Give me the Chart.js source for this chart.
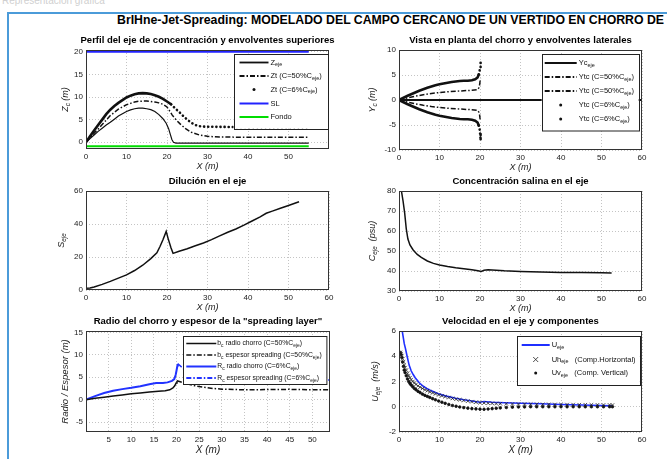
<!DOCTYPE html>
<html>
<head>
<meta charset="utf-8">
<script src="https://cdn.jsdelivr.net/npm/chart.js@4.4.1/dist/chart.umd.min.js"></script>
<style>
  body { margin:0; width:667px; height:459px; overflow:hidden; background:#fff; position:relative; font-family:"Liberation Sans", Arial, sans-serif; }
  #cabecera { position:absolute; left:2px; top:-5px; font-size:10px; color:#d0d0d0; }
  #recuadro { position:absolute; left:7px; top:12px; width:700px; height:480px; border-left:2px solid #4b9bd9; border-top:2px solid #4b9bd9; }
  #titulo { position:absolute; left:117px; top:13px; font-size:12.3px; font-weight:bold; white-space:nowrap; color:#000; }
  canvas { position:absolute; }
</style>
</head>
<body>
<div id="cabecera">Representación gráfica</div>
<div id="recuadro"></div>
<div id="titulo">BrIHne-Jet-Spreading: MODELADO DEL CAMPO CERCANO DE UN VERTIDO EN CHORRO DE</div>
<canvas id="g_perfil"></canvas>
<canvas id="g_planta"></canvas>
<canvas id="g_dilucion"></canvas>
<canvas id="g_concentracion"></canvas>
<canvas id="g_radio"></canvas>
<canvas id="g_velocidad"></canvas>
<script>
// datos: perfil del eje (x, z)
const perfil_z_eje = [[0,0],[1,0.8],[2,1.6],[3,2.4],[4,3.1],[5,3.8],[6,4.4],[7,5.1],[8,5.8],[9,6.3],[10,6.8],[11,7.15],[12,7.4],[13,7.55],[14,7.55],[15,7.4],[16,7.2],[17,6.8],[18,6.1],[19,5.2],[19.8,4.2],[20.4,3.0],[20.8,1.8],[21.2,0.6],[21.6,0],[22.2,-0.2],[30,-0.2],[40,-0.2],[55,-0.2]];
const perfil_zt_50 = [[0,0],[1,1.0],[2,2.0],[3,2.9],[4,3.9],[5,4.9],[6,5.9],[7,6.6],[8,7.3],[9,7.8],[10,8.3],[11,8.6],[12,8.9],[13,9.05],[14,9.1],[15,9.1],[16,9.0],[17,8.9],[18,8.7],[19,8.4],[20,7.8],[20.6,7.0],[21.3,6.0],[22.2,5.0],[23.3,4.0],[24.6,3.0],[26,2.2],[28,1.6],[30,1.3],[33,1.15],[40,1.1],[48,1.1],[55,1.1]];
const perfil_zt_6 = [[0,0],[1,1.3],[2,2.6],[3,3.8],[4,5.0],[5,6.2],[6,7.2],[7,8.0],[8,8.7],[9,9.3],[10,9.9],[11,10.3],[12,10.6],[13,10.8],[14,10.85],[15,10.8],[16,10.65],[17,10.4],[18,10.05],[19,9.6],[20,9.0],[21,8.4],[22,7.5],[23,6.7],[24,5.8],[25,5.0],[26,4.3],[27,3.8],[28,3.55],[29,3.45],[32,3.4],[40,3.35],[48,3.35],[55,3.35]];
const perfil_sl = [[0,20],[55,20]];
const perfil_fondo = [[0,-0.9],[55,-0.9]];

// datos: vista en planta (x, y)
const planta_yc_eje = [[0,0],[60,0]];
const planta_ytc50_sup = [[0,0],[2,0.4],[4,0.75],[6,1.05],[8,1.3],[10,1.5],[12,1.65],[14,1.75],[16,1.85],[18,1.95],[19.3,2.05],[19.7,2.4],[19.9,3.0],[20,3.7],[20.1,4.3]];
const planta_ytc50_inf = [[0,0],[2,-0.4],[4,-0.75],[6,-1.05],[8,-1.3],[10,-1.5],[12,-1.65],[14,-1.75],[16,-1.85],[18,-1.95],[19.3,-2.05],[19.7,-2.4],[19.9,-3.0],[20,-3.7],[20.1,-4.2]];
const planta_ytc6_sup = [[0,0],[1,0.4],[2,0.8],[3,1.15],[4,1.5],[5,1.85],[6,2.15],[7,2.45],[8,2.7],[9,2.95],[10,3.15],[11,3.3],[12,3.45],[13,3.6],[14,3.7],[15,3.8],[16,3.85],[17,3.85],[18,3.95],[18.8,4.15],[19.4,4.5],[19.7,5.1],[19.9,5.8],[20,6.5],[20.1,7.3],[20.2,8.0]];
const planta_ytc6_inf = [[0,0],[1,-0.4],[2,-0.8],[3,-1.15],[4,-1.5],[5,-1.85],[6,-2.15],[7,-2.45],[8,-2.7],[9,-2.95],[10,-3.15],[11,-3.3],[12,-3.45],[13,-3.6],[14,-3.7],[15,-3.8],[16,-3.85],[17,-3.85],[18,-3.95],[18.8,-4.15],[19.4,-4.5],[19.7,-5.1],[19.9,-5.8],[20,-6.5],[20.1,-7.3],[20.2,-8.0]];

// datos: dilucion y concentracion en el eje
const dilucion_eje = [[0,1],[1,1.2],[2,1.8],[4,3.4],[6,5.2],[8,7.2],[10,9.2],[12,11.8],[14,15],[16,19],[17.5,22.5],[18.3,26.5],[19,30.5],[19.8,35.5],[20.3,31],[21,25.5],[21.5,22.2],[23,23.5],[25,25],[27,26.8],[29,28.5],[31,30.5],[33,32.8],[35,35],[37,37],[39,39.3],[41,41.8],[43,44.3],[44.5,46.5],[46,47.8],[48,49.5],[50,51.2],[52.6,53.5]];
const concentracion_eje = [[0.6,80],[1,75],[1.4,69],[1.8,61],[2.2,56],[2.7,53],[3.5,50.5],[4.5,48.3],[5.5,46.8],[7,45],[8.5,43.8],[10,43],[12,42.2],[14,41.6],[16,41.1],[18,40.6],[19.5,40.1],[20.3,39.8],[21,40.4],[22,40.6],[24,40.4],[26,40.1],[30,39.8],[35,39.5],[40,39.3],[45,39.2],[50,39.1],[52.5,39]];

// datos: radio y espesor
const radio_b50 = [[0,0],[2,0.3],[4,0.55],[6,0.8],[8,1.05],[10,1.3],[12,1.5],[14,1.7],[16,1.9],[17.5,2.0],[18.5,2.2],[19.2,2.6],[19.6,3.1],[19.9,3.7],[20.1,4.2]];
const espesor_b50 = [[20.1,4.2],[22,3.6],[24,3.1],[26,2.8],[28,2.5],[30,2.35],[35,2.2],[40,2.25],[45,2.3],[50,2.2],[54,2.2]];
const radio_r6 = [[0,0],[2,0.8],[4,1.5],[6,2.0],[8,2.35],[10,2.65],[12,3.0],[14,3.45],[15.5,3.7],[17,3.7],[18,3.85],[19,4.2],[19.5,4.6],[19.8,5.5],[20,6.5],[20.2,7.6],[20.3,8.0]];
const espesor_r6 = [[20.3,8.0],[22,6.5],[25,5.3],[28,4.8],[32,4.5],[40,4.4],[48,4.4],[54,4.4]];

// datos: velocidad
const u_eje = [[0.7,6.2],[1,5.6],[1.3,5.0],[1.6,4.6],[2,4.0],[2.5,3.3],[3,2.85],[3.5,2.55],[4,2.3],[5,1.9],[6,1.62],[7,1.42],[8,1.26],[10,1.0],[12,0.82],[14,0.67],[16,0.55],[18,0.45],[20,0.36],[21,0.42],[23,0.36],[26,0.32],[30,0.28],[35,0.24],[40,0.18],[45,0.14],[50,0.1],[52.7,0.07]];
const uh_eje = [[0.3,4.3],[0.5,4.2],[0.7,4.05],[0.9,3.8],[1.1,3.55],[1.3,3.3],[1.5,3.1],[1.8,2.9],[2.1,2.65],[2.4,2.45],[2.7,2.3],[3.0,2.15],[3.4,2.0],[3.8,1.88],[4.2,1.77],[4.7,1.65],[5.2,1.55],[5.8,1.45],[6.4,1.35],[7.0,1.27],[7.6,1.18],[8.3,1.1],[9.0,1.02],[9.8,0.94],[10.6,0.87],[11.4,0.8],[12.3,0.73],[13.2,0.66],[14.1,0.6],[15,0.55],[16,0.5],[17,0.45],[18,0.4],[19,0.36],[20,0.32],[21,0.3],[22,0.28],[23,0.27],[24,0.25],[25,0.24],[26.5,0.23],[28,0.22],[29.5,0.21],[31,0.21],[32.5,0.2],[34,0.2],[35.5,0.19],[37,0.19],[38.5,0.18],[40,0.18],[41.5,0.17],[43,0.17],[44.5,0.16],[46,0.16],[47.5,0.15],[49,0.15],[50.5,0.14],[52,0.14],[52.7,0.13]];
const uv_eje = [[0.3,4.3],[0.5,4.15],[0.7,3.9],[0.9,3.55],[1.1,3.2],[1.3,2.9],[1.5,2.7],[1.8,2.45],[2.1,2.2],[2.4,2.0],[2.7,1.85],[3.0,1.72],[3.4,1.58],[3.8,1.45],[4.2,1.35],[4.7,1.22],[5.2,1.12],[5.8,1.0],[6.4,0.9],[7.0,0.82],[7.6,0.74],[8.3,0.64],[9.0,0.55],[9.8,0.45],[10.6,0.36],[11.4,0.27],[12.3,0.18],[13.2,0.1],[14.1,0.04],[15,-0.02],[16,-0.07],[17,-0.11],[18,-0.15],[19,-0.17],[20,-0.19],[21,-0.2],[22,-0.18],[23,-0.15],[24,-0.12],[25,-0.09],[26.5,-0.06],[28,-0.03],[29.5,-0.02],[31,-0.01],[32.5,0],[34,0],[35.5,0],[37,0],[38.5,0],[40,0],[41.5,0],[43,0],[44.5,0],[46,0],[47.5,0],[49,0],[50.5,0],[52,0],[52.7,0]];

// ticks de los ejes
const ticks_x = [0,10,20,30,40,50,60];
const ticks_x_perfil = [0,10,20,30,40,50];
const ticks_x_radio = [5,10,15,20,25,30,35,40,45,50];
const ticks_y_perfil = [0,5,10,15,20];
const ticks_y_planta = [-10,-5,0,5,10];
const ticks_y_dilucion = [0,20,40,60];
const ticks_y_concentracion = [30,40,50,60,70,80];
const ticks_y_radio = [-5,0,5,10,15];
const ticks_y_velocidad = [-2,0,2,4,6];

const FUENTE = '"Liberation Sans", Arial, sans-serif';
const DASH_PUNTO = [5, 2, 1.5, 2];
Chart.defaults.font.family = FUENTE;

const a_puntos = arr => arr.map(([x, y]) => ({x, y}));

const linea = (datos, color, ancho, dash, extra) => ({
    data: a_puntos(datos),
    borderColor: color,
    backgroundColor: color,
    borderWidth: ancho,
    borderDash: dash || [],
    pointRadius: 0,
    showLine: true,
    tension: 0,
    ...extra
});

const marcas = (datos, estilo, radio, extra) => ({
    data: a_puntos(datos),
    showLine: false,
    pointStyle: estilo,
    pointRadius: radio,
    borderColor: '#111',
    backgroundColor: '#111',
    pointBorderWidth: 0.8,
    ...extra
});

// linea gruesa que pasa a puntos a partir de x_corte
const punteada = (datos, x_corte) => linea(datos, '#111', 2.6, [], {
    borderCapStyle: 'round',
    segment: { borderDash: ctx => ctx.p0.parsed.x >= x_corte ? [0.1, 4] : undefined }
});

// texto con subindices tipo "C_{eje}"
const dibuja_texto = (ctx, texto, x, y, tam, estilo, centrado) => {
    const partes = texto.split(/_\{([^}]*)\}/);
    const fuente = (i) => `${estilo} ${i % 2 ? tam * 0.72 : tam}px ${FUENTE}`;
    let ancho = 0;
    partes.forEach((p, i) => { ctx.font = fuente(i); ancho += ctx.measureText(p).width; });
    let x0 = centrado ? x - ancho / 2 : x;
    ctx.textAlign = 'left';
    ctx.textBaseline = 'middle';
    partes.forEach((p, i) => {
        ctx.font = fuente(i);
        ctx.fillText(p, x0, i % 2 ? y + tam * 0.32 : y);
        x0 += ctx.measureText(p).width;
    });
};

const dibuja_marca = (ctx, tipo, x, y) => {
    ctx.beginPath();
    if (tipo === 'punto') {
        ctx.arc(x, y, 1.5, 0, Math.PI * 2);
        ctx.fill();
    } else if (tipo === 'cruz') {
        ctx.lineWidth = 0.8;
        ctx.moveTo(x - 2.5, y - 2.5); ctx.lineTo(x + 2.5, y + 2.5);
        ctx.moveTo(x + 2.5, y - 2.5); ctx.lineTo(x - 2.5, y + 2.5);
        ctx.stroke();
    }
};

const crea_marco = (cfg) => ({
    id: 'marco',
    afterDraw(chart) {
        const {ctx, chartArea: a} = chart;
        ctx.save();
        ctx.strokeStyle = '#333';
        ctx.lineWidth = 1;
        ctx.setLineDash([]);
        ctx.strokeRect(a.left + 0.5, a.top + 0.5, a.width - 1, a.height - 1);
        // titulo del grafico
        ctx.fillStyle = '#000';
        ctx.font = `bold 9.5px ${FUENTE}`;
        ctx.textAlign = 'center';
        ctx.textBaseline = 'middle';
        ctx.fillText(cfg.titulo, (a.left + a.right) / 2, a.top - 10);
        // titulo eje y
        ctx.save();
        ctx.fillStyle = '#222';
        ctx.translate(a.left - cfg.offset_y, (a.top + a.bottom) / 2);
        ctx.rotate(-Math.PI / 2);
        dibuja_texto(ctx, cfg.eje_y, 0, 0, cfg.tam_y, 'italic', true);
        ctx.restore();
        // leyenda
        const ley = cfg.leyenda;
        if (ley) {
            const bx = a.left + ley.x, by = a.top + ley.y;
            ctx.fillStyle = '#fff';
            ctx.fillRect(bx, by, ley.w, ley.h);
            ctx.strokeStyle = '#222';
            ctx.lineWidth = 1;
            ctx.strokeRect(Math.round(bx) + 0.5, Math.round(by) + 0.5, ley.w, ley.h);
            ley.filas.forEach((f, i) => {
                const y = by + ley.filas_y[i];
                ctx.strokeStyle = f.color;
                ctx.fillStyle = f.color;
                if (f.marca) {
                    dibuja_marca(ctx, f.marca, bx + (ley.m0 + ley.m1) / 2, y);
                } else {
                    ctx.beginPath();
                    ctx.lineWidth = f.ancho || 1.5;
                    ctx.setLineDash(f.dash || []);
                    ctx.moveTo(bx + ley.m0, y);
                    ctx.lineTo(bx + ley.m1, y);
                    ctx.stroke();
                    ctx.setLineDash([]);
                }
                ctx.fillStyle = '#111';
                dibuja_texto(ctx, f.texto, bx + ley.tx, y, ley.tam, 'normal', false);
            });
        }
        ctx.restore();
    }
});

const crea_grafico = (id, geo, datasets, ejes, cfg) => {
    const izq = 45, der = 14, arr = 22, aba = geo.aba;
    const canvas = document.getElementById(id);
    canvas.width = geo.r - geo.l + izq + der;
    canvas.height = geo.b - geo.t + arr + aba;
    canvas.style.left = (geo.l - izq) + 'px';
    canvas.style.top = (geo.t - arr) + 'px';
    const grid = { color: '#c4c4c4', lineWidth: 1, drawTicks: false };
    const borde = { display: false, dash: [1, 2] };
    const ticks = { padding: 3, color: '#222', font: { size: 8 }, maxRotation: 0, autoSkip: false };
    new Chart(canvas, {
        type: 'scatter',
        data: { datasets },
        options: {
            responsive: false,
            animation: false,
            events: [],
            layout: { padding: { top: arr, right: der, left: 0, bottom: 0 } },
            plugins: { legend: { display: false }, tooltip: { enabled: false } },
            scales: {
                x: {
                    type: 'linear', min: ejes.x_min, max: ejes.x_max,
                    afterBuildTicks: eje => { eje.ticks = ejes.x_ticks.map(value => ({value})); },
                    afterFit: eje => { eje.height = aba; },
                    grid, border: borde, ticks,
                    title: { display: true, text: 'X (m)', color: '#222',
                        font: { size: geo.tam_x, style: 'italic' }, padding: { top: 0, bottom: 3 } }
                },
                y: {
                    type: 'linear', min: ejes.y_min, max: ejes.y_max,
                    afterBuildTicks: eje => { eje.ticks = ejes.y_ticks.map(value => ({value})); },
                    afterFit: eje => { eje.width = izq; },
                    grid, border: borde, ticks
                }
            }
        },
        plugins: [crea_marco(cfg)]
    });
};

// Perfil
crea_grafico('g_perfil', {l: 86, t: 50, r: 329, b: 149, aba: 26, tam_x: 9}, [
    linea(perfil_sl, '#2222ff', 2),
    linea(perfil_fondo, '#00dd00', 2),
    linea(perfil_z_eje, '#111', 1.2),
    linea(perfil_zt_50, '#111', 1.5, DASH_PUNTO),
    punteada(perfil_zt_6, 21)
], {x_min: 0, x_max: 60, x_ticks: ticks_x_perfil, y_min: -1.5, y_max: 20.4, y_ticks: ticks_y_perfil}, {
    titulo: 'Perfil del eje de concentración y envolventes superiores',
    eje_y: 'Z_{c} (m)', offset_y: 21, tam_y: 9,
    leyenda: { x: 147.5, y: 3.5, w: 94, h: 75, m0: 6, m1: 35, tx: 37, tam: 7.5,
        filas_y: [9, 22.5, 36, 50, 63.5],
        filas: [
            {texto: 'Z_{eje}', color: '#111', ancho: 1.8},
            {texto: 'Zt (C=50%C_{eje})', color: '#111', ancho: 1.8, dash: DASH_PUNTO},
            {texto: 'Zt (C=6%C_{eje})', color: '#111', marca: 'punto'},
            {texto: 'SL', color: '#2222ff', ancho: 2},
            {texto: 'Fondo', color: '#00dd00', ancho: 2}
        ] }
});

// Vista en planta
crea_grafico('g_planta', {l: 399, t: 50, r: 642, b: 150, aba: 26, tam_x: 9}, [
    linea(planta_yc_eje, '#111', 2.2),
    linea(planta_ytc50_sup, '#111', 1.5, DASH_PUNTO),
    linea(planta_ytc50_inf, '#111', 1.5, DASH_PUNTO),
    punteada(planta_ytc6_sup, 19.6),
    punteada(planta_ytc6_inf, 19.6)
], {x_min: 0, x_max: 60, x_ticks: ticks_x, y_min: -10, y_max: 10, y_ticks: ticks_y_planta}, {
    titulo: 'Vista en planta del chorro y envolventes laterales',
    eje_y: 'Y_{c} (m)', offset_y: 27, tam_y: 9,
    leyenda: { x: 142.7, y: 4, w: 97, h: 76.5, m0: 3, m1: 35, tx: 37, tam: 7.5,
        filas_y: [9, 23, 37, 51, 65],
        filas: [
            {texto: 'Yc_{eje}', color: '#111', ancho: 2},
            {texto: 'Ytc (C=50%C_{eje})', color: '#111', ancho: 1.8, dash: DASH_PUNTO},
            {texto: 'Ytc (C=50%C_{eje})', color: '#111', ancho: 1.8, dash: DASH_PUNTO},
            {texto: 'Ytc (C=6%C_{eje})', color: '#111', marca: 'punto'},
            {texto: 'Ytc (C=6%C_{eje})', color: '#111', marca: 'punto'}
        ] }
});

// Dilucion
crea_grafico('g_dilucion', {l: 86, t: 191, r: 329, b: 290, aba: 26, tam_x: 9}, [
    linea(dilucion_eje, '#111', 1.5)
], {x_min: 0, x_max: 60, x_ticks: ticks_x, y_min: 0, y_max: 60, y_ticks: ticks_y_dilucion}, {
    titulo: 'Dilución en el eje',
    eje_y: 'S_{eje}', offset_y: 25, tam_y: 9
});

// Concentracion
crea_grafico('g_concentracion', {l: 399, t: 191, r: 642, b: 291, aba: 26, tam_x: 9}, [
    linea(concentracion_eje, '#111', 1.5)
], {x_min: 0, x_max: 60, x_ticks: ticks_x, y_min: 30, y_max: 80, y_ticks: ticks_y_concentracion}, {
    titulo: 'Concentración salina en el eje',
    eje_y: 'C_{eje}  (psu)', offset_y: 27, tam_y: 9
});

// Radio y espesor
crea_grafico('g_radio', {l: 86, t: 331, r: 330, b: 432, aba: 27, tam_x: 10}, [
    linea(espesor_r6, '#2233ff', 1.5, DASH_PUNTO),
    linea(espesor_b50, '#111', 1.5, DASH_PUNTO),
    linea(radio_b50, '#111', 1.5),
    linea(radio_r6, '#2233ff', 2)
], {x_min: 0, x_max: 53.9, x_ticks: ticks_x_radio, y_min: -7.2, y_max: 15.3, y_ticks: ticks_y_radio}, {
    titulo: 'Radio del chorro y espesor de la "spreading layer"',
    eje_y: 'Radio / Espesor (m)', offset_y: 21, tam_y: 9.5,
    leyenda: { x: 97.3, y: 5, w: 143.4, h: 48, m0: 3, m1: 33, tx: 34, tam: 6.8,
        filas_y: [7.5, 19, 30.5, 42],
        filas: [
            {texto: 'b_{c} radio chorro (C=50%C_{eje})', color: '#111', ancho: 1.5},
            {texto: 'b_{c} espesor spreading (C=50%C_{eje})', color: '#111', ancho: 1.5, dash: DASH_PUNTO},
            {texto: 'R_{c} radio chorro (C=6%C_{eje})', color: '#2233ff', ancho: 2},
            {texto: 'R_{c} espesor spreading (C=6%C_{eje})', color: '#2233ff', ancho: 1.8, dash: DASH_PUNTO}
        ] }
});

// Velocidad
crea_grafico('g_velocidad', {l: 399, t: 331, r: 642, b: 432, aba: 27, tam_x: 10}, [
    marcas(uh_eje, 'crossRot', 2.5, { pointBackgroundColor: 'rgba(0,0,0,0)', pointBorderColor: '#222' }),
    marcas(uv_eje, 'circle', 1.3),
    linea(u_eje, '#1f2fff', 1.6)
], {x_min: 0, x_max: 60, x_ticks: ticks_x, y_min: -2, y_max: 6, y_ticks: ticks_y_velocidad}, {
    titulo: 'Velocidad en el eje y componentes',
    eje_y: 'U_{eje}  (m/s)', offset_y: 24, tam_y: 9,
    leyenda: { x: 117.7, y: 5, w: 123, h: 49, m0: 5, m1: 33, tx: 35, tam: 7.5,
        filas_y: [9, 23.5, 37],
        filas: [
            {texto: 'U_{eje}', color: '#1f2fff', ancho: 2},
            {texto: 'Uh_{eje}   (Comp.Horizontal)', color: '#222', marca: 'cruz'},
            {texto: 'Uv_{eje}   (Comp. Vertical)', color: '#111', marca: 'punto'}
        ] }
});
</script>
</body>
</html>
